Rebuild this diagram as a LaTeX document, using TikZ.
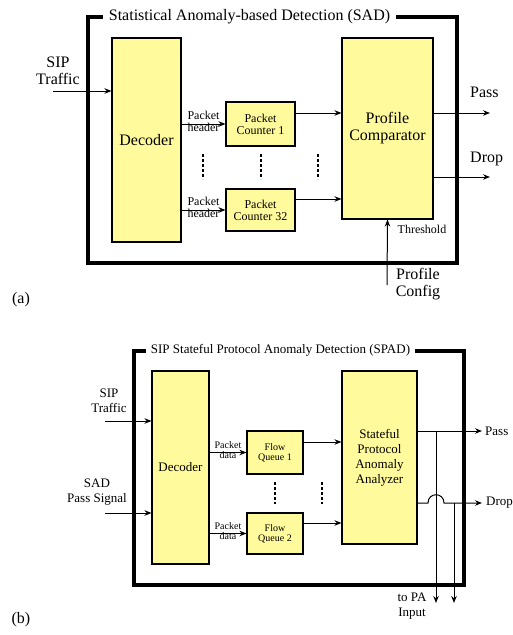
\documentclass[tikz,border=0pt]{standalone}
\usepackage{fontspec}
\setmainfont{Liberation Serif}
\usepackage{xcolor}
\usetikzlibrary{arrows.meta, positioning}
\definecolor{padyellow}{RGB}{255,250,155}

\begin{document}
\begin{tikzpicture}[
    x=1pt, y=-1pt,
    every node/.style={font=\rmfamily\fontsize{16}{17}\selectfont, inner sep=0pt, align=center},
    block/.style={rectangle, draw, line width=1.1pt, fill=padyellow, align=center},
    frame/.style={line width=3.2pt},
    arrow/.style={-{Stealth[length=7pt, width=5.5pt]}, line width=1pt},
    dots/.style={line width=2.2pt, dash pattern=on 3pt off 2pt},
    midtext/.style={font=\rmfamily\fontsize{13}{15}\selectfont},
    smalltext/.style={font=\rmfamily\fontsize{12}{12}\selectfont},
    tinytext/.style={font=\rmfamily\fontsize{10}{10}\selectfont}
]
\useasboundingbox (0,0) rectangle (513,635);

% (a) SAD
\draw[frame] (88,17) rectangle (457,263);
\node[fill=white, inner xsep=6pt, inner ysep=2pt] (titleA) at (249.5,17) {Statistical Anomaly-based Detection (SAD)};
\node[block, minimum width=69pt, minimum height=204pt] (decA) at (146.5,140) {Decoder};
\node[block, minimum width=91pt, minimum height=181pt] (cmpA) at (387.5,128.5) {Profile\\Comparator};
\node[block, smalltext, minimum width=69pt, minimum height=44pt] (cntA1) at (260.5,124) {Packet\\Counter 1};
\node[block, smalltext, minimum width=69pt, minimum height=42pt] (cntA32) at (260.5,210) {Packet\\Counter 32};

\coordinate (sipA) at (53,91);
\coordinate (passA) at (490,113);
\coordinate (dropA) at (490,177);
\coordinate (cfgA) at (387,285);
\node (sipAlbl) at (58,71) {SIP\\Traffic};
\node[anchor=west] (passAlbl) at (470,92) {Pass};
\node[anchor=west] (dropAlbl) at (470,159) {Drop};
\node[smalltext] (thrA) at (422,229) {Threshold};
\node (cfgAlbl) at (418,284) {Profile\\Config};
\node (capA) at (21,300) {(a)};

\draw[arrow] (sipA) -- (sipA -| decA.west);
\draw[arrow] (decA.east |- cntA1) -- node[smalltext, yshift=2.5pt]{Packet\\header} (cntA1.west);
\draw[arrow] (decA.east |- cntA32) -- node[smalltext, yshift=2.5pt]{Packet\\header} (cntA32.west);
\draw[arrow] ([yshift=11pt]cntA1.east) -- ([yshift=11pt]cntA1.east -| cmpA.west);
\draw[arrow] ([yshift=11pt]cntA32.east) -- ([yshift=11pt]cntA32.east -| cmpA.west);
\draw[arrow] (passA -| cmpA.east) -- (passA);
\draw[arrow] (dropA -| cmpA.east) -- (dropA);
\draw[arrow] (cfgA) -- (cmpA.south);
\foreach \x in {203,261,318}
  \draw[dots] (\x,154) -- (\x,179);

% (b) SPAD
\draw[frame] (134,351) rectangle (464,585);
\node[midtext, fill=white, inner xsep=5pt, inner ysep=2pt] (titleB) at (280.5,350) {SIP Stateful Protocol Anomaly Detection (SPAD)};
\node[block, midtext, minimum width=57pt, minimum height=193pt] (decB) at (180.5,467.5) {Decoder};
\node[block, midtext, minimum width=75pt, minimum height=173pt] (anlB) at (379.5,457.5) {Stateful\\Protocol\\Anomaly\\Analyzer};
\node[block, tinytext, minimum width=56pt, minimum height=43pt] (fqB1) at (275,452.5) {Flow\\Queue 1};
\node[block, tinytext, minimum width=56pt, minimum height=41pt] (fqB2) at (275,533.5) {Flow\\Queue 2};

\coordinate (sipB) at (105,421);
\coordinate (sadB) at (105,513);
\coordinate (passB) at (482,431);
\coordinate (dropB) at (482,503);
\coordinate (tapP) at (436,431);
\coordinate (tapD) at (454,503);
\coordinate (paP) at (436,603);
\coordinate (paD) at (454,603);
\node[midtext] (sipBlbl) at (109,401) {SIP\\Traffic};
\node[midtext] (sadBlbl) at (97,492.5) {SAD\\Pass Signal};
\node[midtext, anchor=west] (passBlbl) at (485,431) {Pass};
\node[midtext, anchor=west] (dropBlbl) at (486,503) {Drop};
\node[midtext] (paBlbl) at (412,606) {to PA\\Input};
\node (capB) at (21,620) {(b)};

\draw[arrow] (sipB) -- (sipB -| decB.west);
\draw[arrow] (sadB) -- (sadB -| decB.west);
\draw[arrow] (decB.east |- fqB1) -- node[tinytext, yshift=2pt]{Packet\\data} (fqB1.west);
\draw[arrow] (decB.east |- fqB2) -- node[tinytext, yshift=2pt]{Packet\\data} (fqB2.west);
\draw[arrow] ([yshift=10.5pt]fqB1.east) -- ([yshift=10.5pt]fqB1.east -| anlB.west);
\draw[arrow] ([yshift=10.5pt]fqB2.east) -- ([yshift=10.5pt]fqB2.east -| anlB.west);
\draw[arrow] (passB -| anlB.east) -- (passB);
\draw[arrow] (dropB -| anlB.east) -- ([xshift=-8pt]tapP |- dropB)
  .. controls ([xshift=-8pt,yshift=11pt]tapP |- dropB) and ([xshift=8pt,yshift=11pt]tapP |- dropB)
  .. ([xshift=8pt]tapP |- dropB) -- (dropB);
\draw[arrow] (tapP) -- (paP);
\draw[arrow] (tapD) -- (paD);
\foreach \x in {275,322}
  \draw[dots] (\x,482) -- (\x,504);
\end{tikzpicture}
\end{document}
